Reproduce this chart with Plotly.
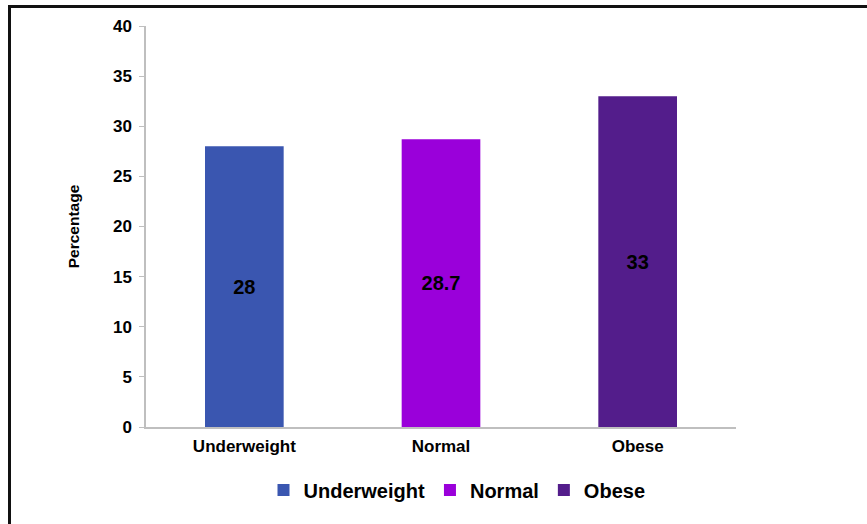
import plotly.graph_objects as go

# Share of each BMI group (percentage)
categories = ["Underweight", "Normal", "Obese"]
values = [28, 28.7, 33]
colors = ["#3A56B0", "#9A00DA", "#531D8B"]

y_ticks = [0, 5, 10, 15, 20, 25, 30, 35, 40]

W, H = 867, 524
L, R, T, B = 146, 131, 26, 97
pw, ph = W - L - R, H - T - B

fig = go.Figure()
for cat, val, col in zip(categories, values, colors):
    fig.add_trace(go.Bar(
        x=[cat], y=[val], name=cat,
        marker=dict(color=col, line=dict(width=0)),
        width=0.4,
        text=[f"{val:g}"], textposition="inside", insidetextanchor="middle",
        textfont=dict(family="Liberation Sans, Arial", size=20, color="black", weight="bold"),
    ))

# outer frame around the chart
def px_x(p):
    return (p - L) / pw

def px_y(p):
    return (H - B - p) / ph

fig.add_shape(type="rect", xref="paper", yref="paper",
              x0=px_x(9.5), x1=px_x(900), y0=px_y(560), y1=px_y(6.5),
              line=dict(color="#111111", width=3), fillcolor="rgba(0,0,0,0)")

fig.update_layout(
    width=W, height=H,
    margin=dict(l=L, r=R, t=T, b=B),
    paper_bgcolor="white", plot_bgcolor="white",
    barmode="group", bargap=0.6,
    font=dict(family="Liberation Sans, Arial", color="black"),
    showlegend=True,
    legend=dict(orientation="h", x=px_x(457), y=px_y(490),
                xanchor="center", yanchor="middle",
                font=dict(size=20, weight="bold"),
                itemwidth=30, tracegroupgap=0),
    uniformtext=dict(mode="show", minsize=10),
)
fig.update_xaxes(
    showline=True, linecolor="#BFBFBF", linewidth=1.5,
    ticks="", showgrid=False,
    tickfont=dict(size=17, weight="bold"),
    ticklabelstandoff=3,
)
fig.update_yaxes(
    range=[0, 40], tickvals=y_ticks,
    showline=True, linecolor="#BFBFBF", linewidth=1.5,
    ticks="outside", ticklen=5, tickcolor="#BFBFBF",
    showgrid=False, zeroline=False,
    tickfont=dict(size=17, weight="bold"),
    ticklabelstandoff=4,
    title=dict(text="Percentage", font=dict(size=15.5, weight="bold"), standoff=30),
)

fig.write_html("out.html")
